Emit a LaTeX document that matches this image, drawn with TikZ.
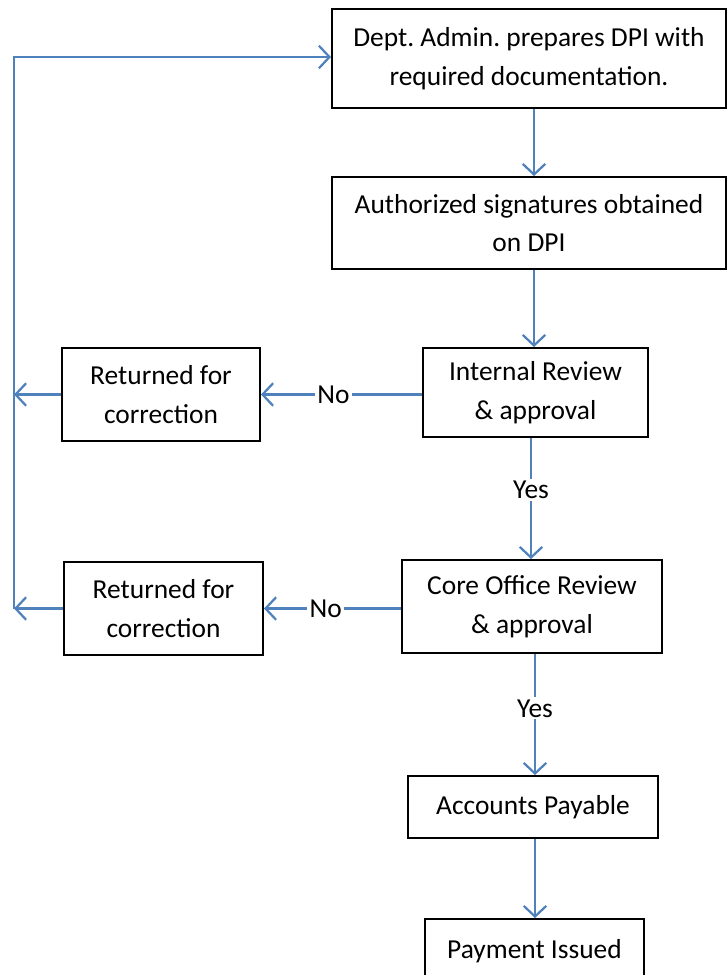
\documentclass[tikz,border=0pt]{standalone}
\usepackage{fontspec}
\setmainfont{Carlito}
\usetikzlibrary{arrows.meta}
\frenchspacing

\definecolor{flowblue}{RGB}{79,129,189}
\newcommand{\upx}{0.025cm}

\tikzset{
	box/.style={draw, line width=1.4pt, align=center, inner sep=0pt,
		font=\fontsize{19.5}{27.5}\selectfont},
	flow/.style={draw=flowblue, line width=1.6pt,
		-{Straight Barb[length=7.5pt,width=16pt,line width=1.6pt]}},
	answer/.style={fill=white, inner sep=1.5pt, font=\fontsize{19.5}{22}\selectfont}
}

\begin{document}
\begin{tikzpicture}[x=\upx, y=-\upx]
	\useasboundingbox (0,0) rectangle (727,975);
	\clip (0,0) rectangle (727,975);

	% main column
	\node[box, minimum width=394*\upx, minimum height=99*\upx] (dept) at (529,58.5) {Dept. Admin. prepares DPI with\\required documentation.};
	\node[box, minimum width=394*\upx, minimum height=92*\upx] (sign) at (529,223) {Authorized signatures obtained\\on DPI};
	\node[box, minimum width=225*\upx, minimum height=89*\upx] (internal) at (535.5,392.5) {Internal Review\\\& approval};
	\node[box, minimum width=260*\upx, minimum height=93*\upx] (core) at (532,606.5) {Core Office Review\\\& approval};
	\node[box, minimum width=250*\upx, minimum height=62*\upx] (payable) at (533,807) {Accounts Payable};
	\node[box, minimum width=219*\upx, minimum height=64*\upx, anchor=north] (issued) at (534.5,918) {Payment Issued};

	% returns
	\node[box, minimum width=198*\upx, minimum height=93*\upx] (ret1) at (161,394.5) {Returned for\\correction};
	\node[box, minimum width=199*\upx, minimum height=93*\upx] (ret2) at (163.5,608.5) {Returned for\\correction};

	\coordinate (bus) at (14,57);

	\draw[flow] (dept.south -| 534,0) -- (sign.north -| 534,0);
	\draw[flow] (sign.south -| 534,0) -- (internal.north -| 534,0);
	\draw[flow] (internal.south -| 531,0) -- (core.north -| 531,0) node[answer, pos=0.43] {Yes};
	\draw[flow] (core.south -| 535,0) -- (payable.north -| 535,0) node[answer, pos=0.45] {Yes};
	\draw[flow] (payable.south -| 535,0) -- (issued.north -| 535,0);

	\draw[flow] (internal.west |- ret1.east) -- (ret1.east) node[answer, pos=0.55] {No};
	\draw[flow] (core.west |- ret2.east) -- (ret2.east) node[answer, pos=0.55] {No};

	% back to the start
	\draw[flow] (ret1.west) -- (ret1.west -| bus);
	\draw[flow] (ret2.west) -- (ret2.west -| bus);
	\draw[flow] (ret2.west -| bus) -- (bus) -- (bus -| dept.west);
\end{tikzpicture}
\end{document}
